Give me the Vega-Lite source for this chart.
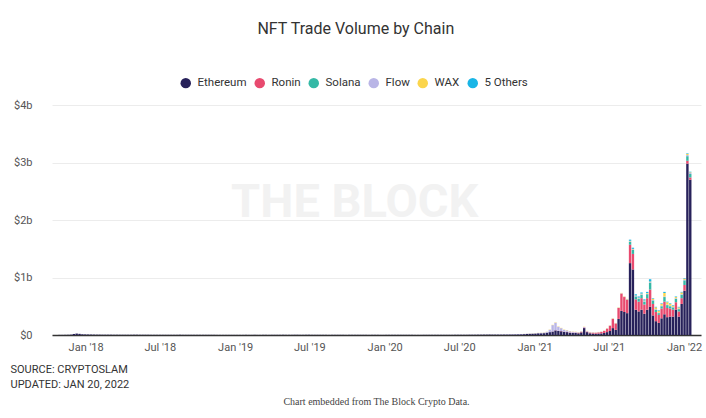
{
  "$schema": "https://vega.github.io/schema/vega-lite/v6.json",
  "background": "white",
  "padding": {"left": 10, "top": 21, "right": 9, "bottom": 10},
  "title": {"text": "NFT Trade Volume by Chain", "fontSize": 16, "font": "Roboto", "fontWeight": "normal", "color": "#333", "anchor": "middle", "offset": 40},
  "datasets": {
    "chains": [
      {"k": "E", "chain": "Ethereum", "rank": 1},
      {"k": "R", "chain": "Ronin", "rank": 2},
      {"k": "S", "chain": "Solana", "rank": 3},
      {"k": "F", "chain": "Flow", "rank": 4},
      {"k": "W", "chain": "WAX", "rank": 5},
      {"k": "O", "chain": "5 Others", "rank": 6}
    ],
    "weekly": [
    {"d": "2017-10-29", "E": 0.002}, {"d": "2017-11-05", "E": 0.002}, {"d": "2017-11-12", "E": 0.003}, {"d": "2017-11-19", "E": 0.004}, {"d": "2017-11-26", "E": 0.006},
    {"d": "2017-12-03", "E": 0.018}, {"d": "2017-12-10", "E": 0.025}, {"d": "2017-12-17", "E": 0.02}, {"d": "2017-12-24", "E": 0.012}, {"d": "2017-12-31", "E": 0.01},
    {"d": "2018-01-07", "E": 0.009}, {"d": "2018-01-14", "E": 0.008}, {"d": "2018-01-21", "E": 0.007}, {"d": "2018-01-28", "E": 0.006},
    {"d": "2018-02-04", "E": 0.006}, {"d": "2018-02-11", "E": 0.005}, {"d": "2018-02-18", "E": 0.005}, {"d": "2018-02-25", "E": 0.005},
    {"d": "2018-03-04", "E": 0.005}, {"d": "2018-03-11", "E": 0.004}, {"d": "2018-03-18", "E": 0.004}, {"d": "2018-03-25", "E": 0.004},
    {"d": "2018-04-01", "E": 0.004}, {"d": "2018-04-08", "E": 0.004}, {"d": "2018-04-15", "E": 0.004}, {"d": "2018-04-22", "E": 0.004}, {"d": "2018-04-29", "E": 0.005},
    {"d": "2018-05-06", "E": 0.005}, {"d": "2018-05-13", "E": 0.004}, {"d": "2018-05-20", "E": 0.004}, {"d": "2018-05-27", "E": 0.004},
    {"d": "2018-06-03", "E": 0.004}, {"d": "2018-06-10", "E": 0.003}, {"d": "2018-06-17", "E": 0.003}, {"d": "2018-06-24", "E": 0.003},
    {"d": "2018-07-01", "E": 0.003}, {"d": "2018-07-08", "E": 0.003}, {"d": "2018-07-15", "E": 0.003}, {"d": "2018-07-22", "E": 0.003}, {"d": "2018-07-29", "E": 0.003},
    {"d": "2018-08-05", "E": 0.003}, {"d": "2018-08-12", "E": 0.003}, {"d": "2018-08-19", "E": 0.003}, {"d": "2018-08-26", "E": 0.003},
    {"d": "2018-09-02", "E": 0.003}, {"d": "2018-09-09", "E": 0.003}, {"d": "2018-09-16", "E": 0.003}, {"d": "2018-09-23", "E": 0.003}, {"d": "2018-09-30", "E": 0.003},
    {"d": "2018-10-07", "E": 0.003}, {"d": "2018-10-14", "E": 0.003}, {"d": "2018-10-21", "E": 0.003}, {"d": "2018-10-28", "E": 0.003},
    {"d": "2018-11-04", "E": 0.003}, {"d": "2018-11-11", "E": 0.003}, {"d": "2018-11-18", "E": 0.002}, {"d": "2018-11-25", "E": 0.002},
    {"d": "2018-12-02", "E": 0.002}, {"d": "2018-12-09", "E": 0.002}, {"d": "2018-12-16", "E": 0.002}, {"d": "2018-12-23", "E": 0.002}, {"d": "2018-12-30", "E": 0.002},
    {"d": "2019-01-06", "E": 0.002}, {"d": "2019-01-13", "E": 0.002}, {"d": "2019-01-20", "E": 0.002}, {"d": "2019-01-27", "E": 0.003},
    {"d": "2019-02-03", "E": 0.002}, {"d": "2019-02-10", "E": 0.002}, {"d": "2019-02-17", "E": 0.003}, {"d": "2019-02-24", "E": 0.002},
    {"d": "2019-03-03", "E": 0.002}, {"d": "2019-03-10", "E": 0.003}, {"d": "2019-03-17", "E": 0.003}, {"d": "2019-03-24", "E": 0.002}, {"d": "2019-03-31", "E": 0.003},
    {"d": "2019-04-07", "E": 0.003}, {"d": "2019-04-14", "E": 0.003}, {"d": "2019-04-21", "E": 0.003}, {"d": "2019-04-28", "E": 0.004},
    {"d": "2019-05-05", "E": 0.003}, {"d": "2019-05-12", "E": 0.003}, {"d": "2019-05-19", "E": 0.003}, {"d": "2019-05-26", "E": 0.004},
    {"d": "2019-06-02", "E": 0.004}, {"d": "2019-06-09", "E": 0.003}, {"d": "2019-06-16", "E": 0.003}, {"d": "2019-06-23", "E": 0.004}, {"d": "2019-06-30", "E": 0.004},
    {"d": "2019-07-07", "E": 0.003}, {"d": "2019-07-14", "E": 0.003}, {"d": "2019-07-21", "E": 0.003}, {"d": "2019-07-28", "E": 0.003},
    {"d": "2019-08-04", "E": 0.003}, {"d": "2019-08-11", "E": 0.003}, {"d": "2019-08-18", "E": 0.002}, {"d": "2019-08-25", "E": 0.003},
    {"d": "2019-09-01", "E": 0.003}, {"d": "2019-09-08", "E": 0.003}, {"d": "2019-09-15", "E": 0.003}, {"d": "2019-09-22", "E": 0.003}, {"d": "2019-09-29", "E": 0.002},
    {"d": "2019-10-06", "E": 0.003}, {"d": "2019-10-13", "E": 0.003}, {"d": "2019-10-20", "E": 0.003}, {"d": "2019-10-27", "E": 0.003},
    {"d": "2019-11-03", "E": 0.003}, {"d": "2019-11-10", "E": 0.003}, {"d": "2019-11-17", "E": 0.003}, {"d": "2019-11-24", "E": 0.002},
    {"d": "2019-12-01", "E": 0.003}, {"d": "2019-12-08", "E": 0.003}, {"d": "2019-12-15", "E": 0.003}, {"d": "2019-12-22", "E": 0.002}, {"d": "2019-12-29", "E": 0.002},
    {"d": "2020-01-05", "E": 0.003}, {"d": "2020-01-12", "E": 0.003}, {"d": "2020-01-19", "E": 0.003}, {"d": "2020-01-26", "E": 0.003},
    {"d": "2020-02-02", "E": 0.003}, {"d": "2020-02-09", "E": 0.003}, {"d": "2020-02-16", "E": 0.003}, {"d": "2020-02-23", "E": 0.003},
    {"d": "2020-03-01", "E": 0.003}, {"d": "2020-03-08", "E": 0.003}, {"d": "2020-03-15", "E": 0.002}, {"d": "2020-03-22", "E": 0.002}, {"d": "2020-03-29", "E": 0.002},
    {"d": "2020-04-05", "E": 0.003}, {"d": "2020-04-12", "E": 0.003}, {"d": "2020-04-19", "E": 0.003}, {"d": "2020-04-26", "E": 0.003},
    {"d": "2020-05-03", "E": 0.003}, {"d": "2020-05-10", "E": 0.003}, {"d": "2020-05-17", "E": 0.003}, {"d": "2020-05-24", "E": 0.003}, {"d": "2020-05-31", "E": 0.003},
    {"d": "2020-06-07", "E": 0.003}, {"d": "2020-06-14", "E": 0.003}, {"d": "2020-06-21", "E": 0.004}, {"d": "2020-06-28", "E": 0.004},
    {"d": "2020-07-05", "E": 0.004}, {"d": "2020-07-12", "E": 0.004}, {"d": "2020-07-19", "E": 0.004}, {"d": "2020-07-26", "E": 0.005},
    {"d": "2020-08-02", "E": 0.005}, {"d": "2020-08-09", "E": 0.005}, {"d": "2020-08-16", "E": 0.006}, {"d": "2020-08-23", "E": 0.006}, {"d": "2020-08-30", "E": 0.007},
    {"d": "2020-09-06", "E": 0.007}, {"d": "2020-09-13", "E": 0.008}, {"d": "2020-09-20", "E": 0.007}, {"d": "2020-09-27", "E": 0.007},
    {"d": "2020-10-04", "E": 0.007, "F": 0.001}, {"d": "2020-10-11", "E": 0.007, "F": 0.002}, {"d": "2020-10-18", "E": 0.008, "F": 0.002}, {"d": "2020-10-25", "E": 0.008, "F": 0.003},
    {"d": "2020-11-01", "E": 0.009, "F": 0.003}, {"d": "2020-11-08", "E": 0.009, "F": 0.003}, {"d": "2020-11-15", "E": 0.01, "F": 0.003}, {"d": "2020-11-22", "E": 0.012, "F": 0.004}, {"d": "2020-11-29", "E": 0.013, "F": 0.004},
    {"d": "2020-12-06", "E": 0.015, "F": 0.004, "W": 0.001}, {"d": "2020-12-13", "E": 0.018, "F": 0.005, "W": 0.001}, {"d": "2020-12-20", "E": 0.02, "F": 0.005, "W": 0.002}, {"d": "2020-12-27", "E": 0.022, "F": 0.005, "W": 0.002},
    {"d": "2021-01-03", "E": 0.025, "F": 0.005, "W": 0.002},
    {"d": "2021-01-10", "E": 0.03, "F": 0.006, "W": 0.002},
    {"d": "2021-01-17", "E": 0.03, "F": 0.008, "W": 0.002},
    {"d": "2021-01-24", "E": 0.032, "F": 0.01, "W": 0.003},
    {"d": "2021-01-31", "E": 0.04, "F": 0.015, "W": 0.003},
    {"d": "2021-02-07", "E": 0.05, "F": 0.04, "W": 0.004},
    {"d": "2021-02-14", "E": 0.06, "F": 0.11, "W": 0.005, "R": 0.002},
    {"d": "2021-02-21", "E": 0.08, "F": 0.13, "W": 0.006, "R": 0.003},
    {"d": "2021-02-28", "E": 0.07, "F": 0.07, "W": 0.005, "R": 0.003},
    {"d": "2021-03-07", "E": 0.065, "F": 0.05, "W": 0.005, "R": 0.004},
    {"d": "2021-03-14", "E": 0.055, "F": 0.03, "W": 0.005, "R": 0.004},
    {"d": "2021-03-21", "E": 0.05, "F": 0.025, "W": 0.005, "R": 0.005},
    {"d": "2021-03-28", "E": 0.04, "F": 0.02, "W": 0.004, "R": 0.005},
    {"d": "2021-04-04", "E": 0.035, "F": 0.015, "W": 0.004, "R": 0.006},
    {"d": "2021-04-11", "E": 0.035, "F": 0.012, "W": 0.004, "R": 0.006},
    {"d": "2021-04-18", "E": 0.03, "F": 0.01, "W": 0.004, "R": 0.007},
    {"d": "2021-04-25", "E": 0.045, "F": 0.01, "W": 0.004, "R": 0.008},
    {"d": "2021-05-02", "E": 0.12, "F": 0.01, "W": 0.004, "R": 0.009},
    {"d": "2021-05-09", "E": 0.05, "F": 0.008, "W": 0.004, "R": 0.01},
    {"d": "2021-05-16", "E": 0.03, "F": 0.007, "W": 0.004, "R": 0.012},
    {"d": "2021-05-23", "E": 0.025, "F": 0.006, "W": 0.003, "R": 0.014},
    {"d": "2021-05-30", "E": 0.022, "F": 0.005, "W": 0.003, "R": 0.016},
    {"d": "2021-06-06", "E": 0.025, "F": 0.005, "W": 0.003, "R": 0.02},
    {"d": "2021-06-13", "E": 0.028, "F": 0.005, "W": 0.003, "R": 0.025},
    {"d": "2021-06-20", "E": 0.035, "F": 0.005, "W": 0.004, "R": 0.035},
    {"d": "2021-06-27", "E": 0.05, "F": 0.005, "W": 0.004, "R": 0.06},
    {"d": "2021-07-04", "E": 0.07, "F": 0.005, "W": 0.004, "R": 0.09},
    {"d": "2021-07-11", "E": 0.12, "F": 0.005, "W": 0.005, "R": 0.16},
    {"d": "2021-07-18", "E": 0.09, "F": 0.005, "W": 0.005, "R": 0.11},
    {"d": "2021-07-25", "E": 0.28, "F": 0.005, "W": 0.006, "R": 0.19},
    {"d": "2021-08-01", "E": 0.42, "F": 0.006, "W": 0.006, "R": 0.3},
    {"d": "2021-08-08", "E": 0.4, "F": 0.006, "W": 0.006, "R": 0.26},
    {"d": "2021-08-15", "E": 0.38, "F": 0.006, "W": 0.007, "R": 0.23, "S": 0.005},
    {"d": "2021-08-22", "E": 1.25, "F": 0.01, "W": 0.008, "R": 0.32, "S": 0.05, "O": 0.02},
    {"d": "2021-08-29", "E": 1.14, "F": 0.01, "W": 0.008, "R": 0.27, "S": 0.07, "O": 0.02},
    {"d": "2021-09-05", "E": 0.44, "F": 0.01, "W": 0.008, "R": 0.18, "S": 0.05, "O": 0.02},
    {"d": "2021-09-12", "E": 0.41, "F": 0.01, "W": 0.01, "R": 0.17, "S": 0.05, "O": 0.02},
    {"d": "2021-09-19", "E": 0.44, "F": 0.01, "W": 0.01, "R": 0.2, "S": 0.06, "O": 0.02},
    {"d": "2021-09-26", "E": 0.37, "F": 0.01, "W": 0.01, "R": 0.16, "S": 0.05, "O": 0.02},
    {"d": "2021-10-03", "E": 0.44, "F": 0.01, "W": 0.01, "R": 0.2, "S": 0.07, "O": 0.02},
    {"d": "2021-10-10", "E": 0.49, "F": 0.01, "W": 0.01, "R": 0.3, "S": 0.12, "O": 0.04},
    {"d": "2021-10-17", "E": 0.34, "F": 0.01, "W": 0.02, "R": 0.2, "S": 0.06, "O": 0.01},
    {"d": "2021-10-24", "E": 0.24, "F": 0.01, "W": 0.03, "R": 0.16, "S": 0.04, "O": 0.01},
    {"d": "2021-10-31", "E": 0.21, "F": 0.01, "W": 0.03, "R": 0.14, "S": 0.03, "O": 0.01},
    {"d": "2021-11-07", "E": 0.29, "F": 0.01, "W": 0.03, "R": 0.17, "S": 0.04, "O": 0.01},
    {"d": "2021-11-14", "E": 0.36, "F": 0.01, "W": 0.06, "R": 0.22, "S": 0.08, "O": 0.02},
    {"d": "2021-11-21", "E": 0.31, "F": 0.01, "W": 0.04, "R": 0.16, "S": 0.05, "O": 0.01},
    {"d": "2021-11-28", "E": 0.32, "F": 0.01, "W": 0.03, "R": 0.14, "S": 0.04, "O": 0.01},
    {"d": "2021-12-05", "E": 0.32, "F": 0.01, "W": 0.02, "R": 0.12, "S": 0.04, "O": 0.01},
    {"d": "2021-12-12", "E": 0.44, "F": 0.01, "W": 0.02, "R": 0.13, "S": 0.06, "O": 0.01},
    {"d": "2021-12-19", "E": 0.32, "F": 0.01, "W": 0.02, "R": 0.09, "S": 0.04, "O": 0.01},
    {"d": "2021-12-26", "E": 0.54, "F": 0.01, "W": 0.03, "R": 0.1, "S": 0.06, "O": 0.01},
    {"d": "2022-01-02", "E": 0.77, "F": 0.01, "W": 0.02, "R": 0.1, "S": 0.08, "O": 0.01},
    {"d": "2022-01-09", "E": 2.98, "F": 0.02, "W": 0.02, "R": 0.05, "S": 0.08, "O": 0.01},
    {"d": "2022-01-16", "E": 2.7, "F": 0.02, "W": 0.01, "R": 0.04, "S": 0.06, "O": 0.01}
    ],
    "watermark": [{"label": "THE BLOCK", "d": "2019-10-20", "v": 2.3}]
  },
  "vconcat": [
    {
      "width": 649,
      "height": 230,
      "title": {"text": "Chart embedded from The Block Crypto Data.", "orient": "bottom", "anchor": "middle", "fontSize": 10, "font": "Liberation Serif", "fontWeight": "normal", "color": "#444", "offset": 8},
      "layer": [
        {
          "data": {"name": "watermark"},
          "mark": {"type": "text", "font": "Roboto", "fontWeight": "bold", "fontSize": 47, "color": "#f2f2f2", "baseline": "middle", "align": "center"},
          "encoding": {
            "x": {"field": "d", "type": "temporal"},
            "y": {"field": "v", "type": "quantitative"},
            "text": {"field": "label"}
          }
        },
        {
          "data": {"name": "weekly"},
          "transform": [
            {"fold": ["E", "R", "S", "F", "W", "O"], "as": ["k", "v"]},
            {"filter": "datum.v > 0"},
            {"lookup": "k", "from": {"data": {"name": "chains"}, "key": "k", "fields": ["chain", "rank"]}}
          ],
          "mark": {"type": "bar", "size": 2.4, "strokeWidth": 0},
          "encoding": {
            "x": {"field": "d", "type": "temporal"},
            "y": {"field": "v", "type": "quantitative", "stack": "zero"},
            "color": {
              "field": "chain", "type": "nominal",
              "sort": ["Ethereum", "Ronin", "Solana", "Flow", "WAX", "5 Others"],
              "scale": {
                "domain": ["Ethereum", "Ronin", "Solana", "Flow", "WAX", "5 Others"],
                "range": ["#27215a", "#e84a6f", "#35b9a6", "#b9b5e6", "#fbd54c", "#19b5e6"]
              },
              "legend": {
                "title": null, "orient": "none", "direction": "horizontal",
                "legendX": 128, "legendY": -28,
                "symbolType": "circle", "symbolSize": 110, "symbolStrokeWidth": 0,
                "labelFontSize": 11.5, "labelFont": "Roboto", "labelColor": "#333",
                "columnPadding": 7, "labelOffset": 6
              }
            },
            "order": {"field": "rank", "type": "quantitative", "sort": "ascending"}
          }
        }
      ],
      "encoding": {
        "x": {
          "field": "d", "type": "temporal",
          "scale": {"domain": [{"year": 2017, "month": 10, "date": 23}, {"year": 2022, "month": 1, "date": 30}]},
          "axis": {
            "tickCount": {"interval": "month", "step": 6},
            "format": "%b '%y",
            "grid": false, "ticks": false, "labelFlush": false,
            "domainColor": "#333", "domainWidth": 1.5,
            "labelPadding": 6, "labelFontSize": 11, "labelColor": "#555", "labelFont": "Roboto",
            "title": ["SOURCE: CRYPTOSLAM", "UPDATED: JAN 20, 2022"],
            "titleAnchor": "start", "titleAlign": "left", "titleBaseline": "top",
            "titleX": -42, "titleY": 28,
            "titleFont": "Roboto", "titleFontSize": 11, "titleFontWeight": "normal", "titleColor": "#333", "titleLineHeight": 15
          }
        },
        "y": {
          "field": "v", "type": "quantitative",
          "scale": {"domain": [0, 4]},
          "axis": {
            "values": [0, 1, 2, 3, 4],
            "labelExpr": "datum.value == 0 ? '$0' : '$' + datum.value + 'b'",
            "title": null, "grid": true, "gridColor": "#ececec", "domain": false, "ticks": false,
            "labelPadding": 20, "labelFontSize": 11, "labelColor": "#555", "labelFont": "Roboto"
          }
        }
      }
    }
  ],
  "config": {"view": {"stroke": null}, "font": "Roboto"}
}
